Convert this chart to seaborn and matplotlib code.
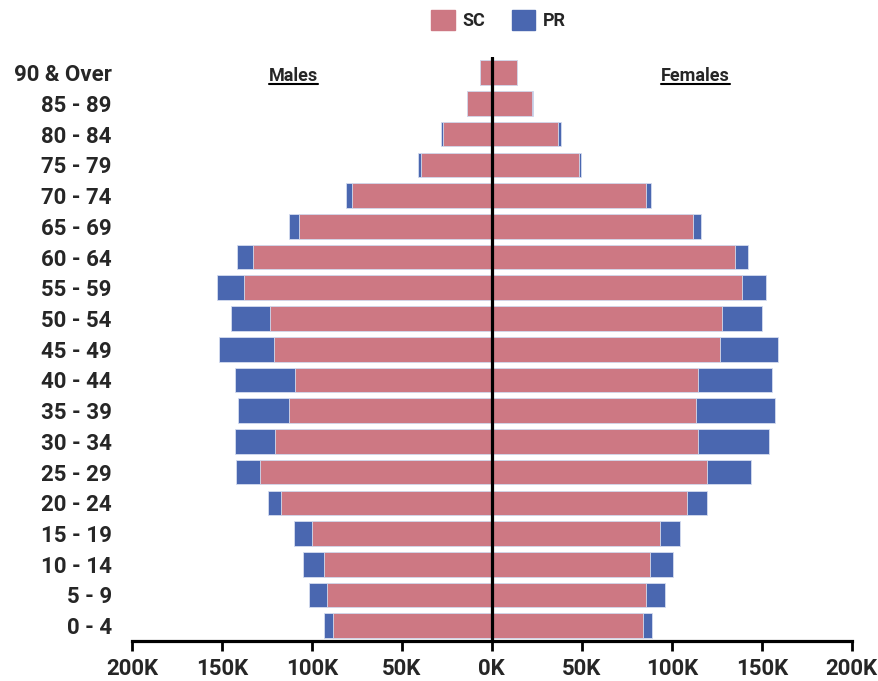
import pandas as pd
import matplotlib
matplotlib.use("Agg")
import matplotlib.pyplot as plt
import seaborn as sns
from matplotlib.patches import Patch
from matplotlib.lines import Line2D
from matplotlib.ticker import FuncFormatter

# age groups, top to bottom
age_groups = ["90 & Over", "85 - 89", "80 - 84", "75 - 79", "70 - 74", "65 - 69",
              "60 - 64", "55 - 59", "50 - 54", "45 - 49", "40 - 44", "35 - 39",
              "30 - 34", "25 - 29", "20 - 24", "15 - 19", "10 - 14", "5 - 9", "0 - 4"]

# values in thousands
male_sc = [6.6, 13.6, 27.0, 39.2, 77.5, 107.0, 132.9, 137.9, 123.0, 120.8,
           109.3, 112.5, 120.3, 128.6, 116.9, 99.7, 93.1, 91.8, 88.2]
male_pr = [0.2, 0.3, 1.0, 1.8, 3.3, 5.5, 8.5, 15.0, 22.1, 30.8,
           33.4, 28.7, 22.6, 13.5, 7.4, 10.0, 11.8, 9.8, 5.0]
female_sc = [13.8, 22.4, 37.0, 48.2, 85.8, 111.6, 135.3, 139.0, 127.9, 126.8,
             114.4, 113.3, 114.8, 119.3, 108.2, 93.4, 88.1, 85.8, 83.8]
female_pr = [0.3, 0.3, 1.3, 1.5, 2.8, 4.4, 7.2, 13.1, 22.2, 32.4,
             41.3, 44.1, 39.2, 24.7, 11.3, 11.3, 12.6, 10.6, 5.4]

SC_COLOR = "#CD7883"
PR_COLOR = "#4A67B0"

df = pd.DataFrame({
    "age": age_groups,
    "male_sc": [-v for v in male_sc],
    "male_tot": [-(a + b) for a, b in zip(male_sc, male_pr)],
    "female_sc": female_sc,
    "female_tot": [a + b for a, b in zip(female_sc, female_pr)],
})

sns.set_style("white")
plt.rcParams["font.family"] = ["Roboto", "DejaVu Sans"]

fig = plt.figure(figsize=(8.79, 6.81), dpi=100)
ax = fig.add_axes([0.150, 0.0587, 0.819, 0.857])

bar_kw = dict(y="age", orient="h", width=0.8, saturation=1, errorbar=None,
              edgecolor="#d5dcef", linewidth=0.6, ax=ax)
sns.barplot(data=df, x="male_tot", color=PR_COLOR, **bar_kw)
sns.barplot(data=df, x="male_sc", color=SC_COLOR, **bar_kw)
sns.barplot(data=df, x="female_tot", color=PR_COLOR, **bar_kw)
sns.barplot(data=df, x="female_sc", color=SC_COLOR, **bar_kw)

ax.axvline(0, color="black", lw=2.3, zorder=5)
ax.set_xlim(-200, 200)
ax.set_ylim(18.5, -0.5)
ax.set_xticks(range(-200, 201, 50))
ax.xaxis.set_major_formatter(FuncFormatter(lambda v, p: f"{abs(int(v))}K"))
ax.set_xlabel("")
ax.set_ylabel("")

for s in ["top", "right", "left"]:
    ax.spines[s].set_visible(False)
ax.spines["bottom"].set_color("black")
ax.spines["bottom"].set_linewidth(2.3)
ax.tick_params(axis="x", bottom=True, length=7, width=2, color="black", pad=5)
ax.tick_params(axis="y", left=False, pad=11)
for lab in ax.get_xticklabels():
    lab.set_fontsize(16)
    lab.set_fontweight("bold")
for lab in ax.get_yticklabels():
    lab.set_fontsize(16)
    lab.set_fontweight("bold")

# Males / Females headings with underline
heads = [ax.text(-110, 0.1, "Males", ha="center", va="center", fontsize=13, fontweight="bold"),
         ax.text(113, 0.1, "Females", ha="center", va="center", fontsize=13, fontweight="bold")]
fig.canvas.draw()
for t in heads:
    bb = t.get_window_extent()
    fig.add_artist(Line2D([bb.x0, bb.x1], [bb.y0 + 1, bb.y0 + 1], transform=None,
                          color="black", lw=1.5))

handles = [Patch(color=SC_COLOR, label="SC"), Patch(color=PR_COLOR, label="PR")]
leg = fig.legend(handles=handles, loc="center", bbox_to_anchor=(0.567, 0.970), ncol=2,
                 frameon=False, prop={"weight": "bold", "size": 13},
                 handlelength=1.3, handleheight=1.3, handletextpad=0.4, columnspacing=1.5)

fig.savefig("out.png", dpi=100)
